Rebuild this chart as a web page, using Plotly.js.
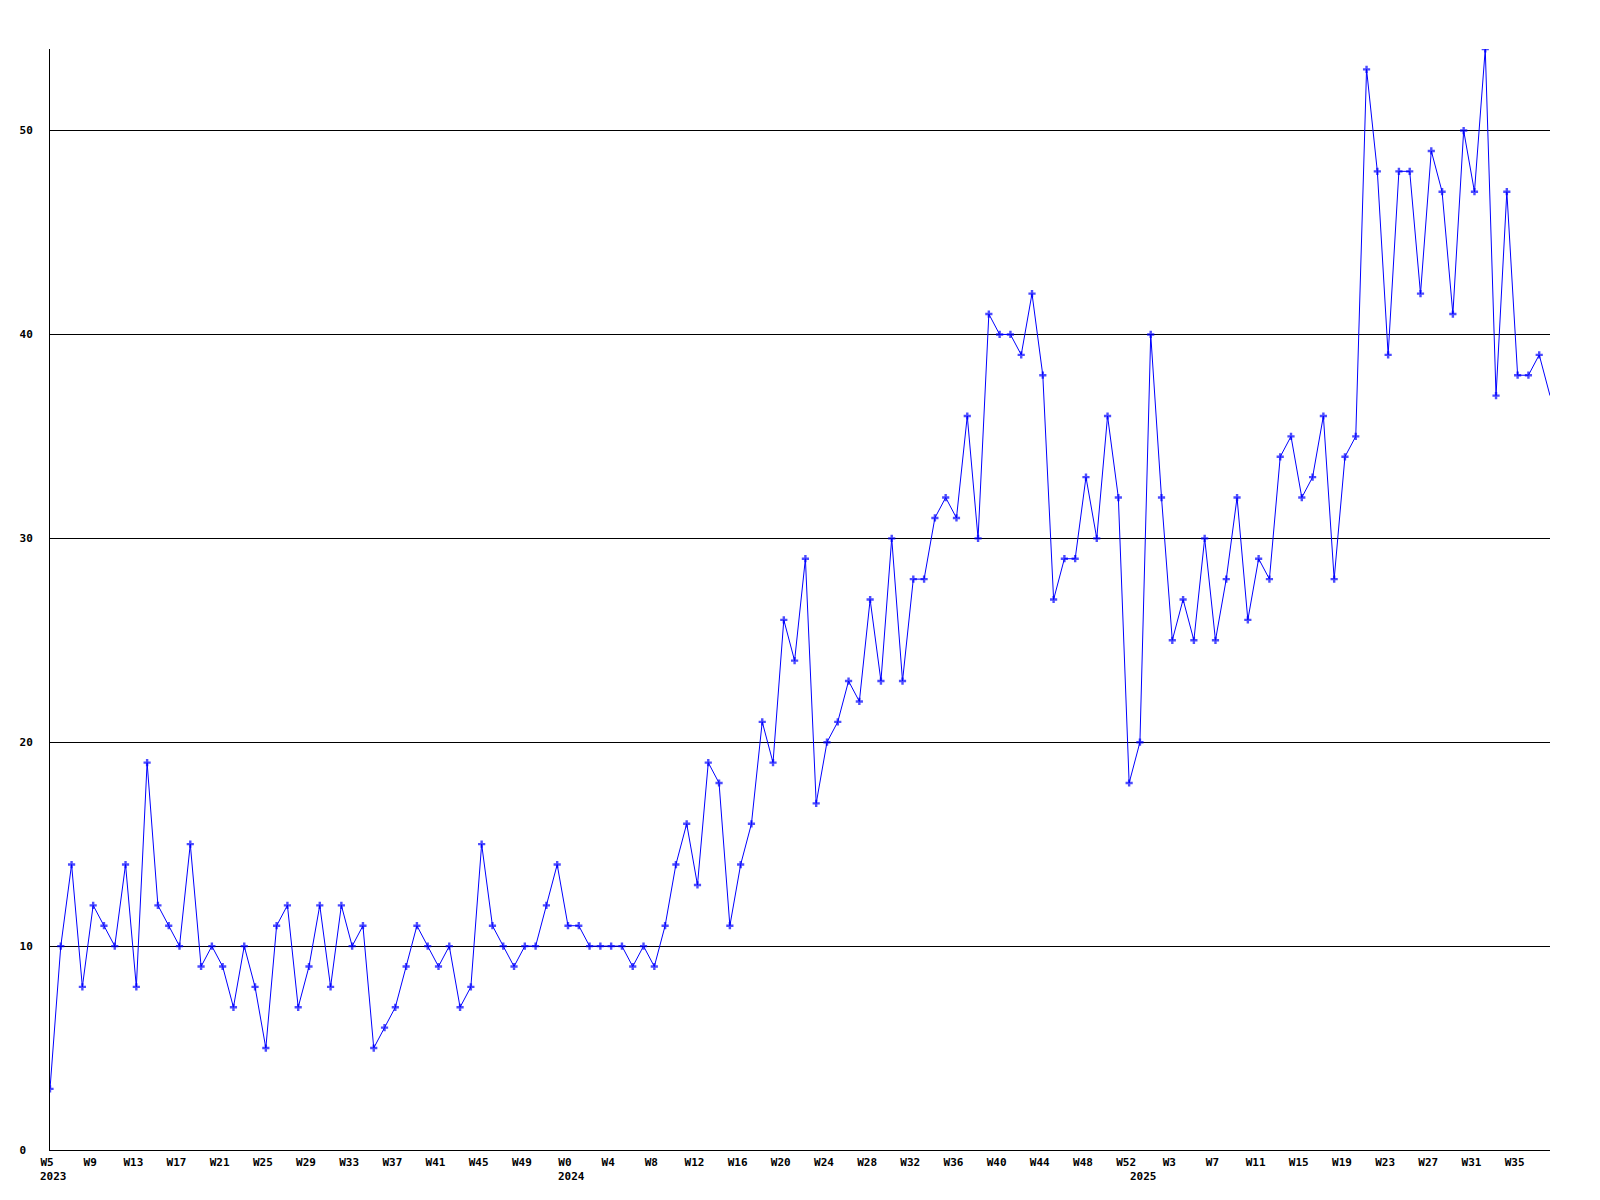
<!DOCTYPE html>
<html>
<head>
<meta charset="utf-8">
<script src="https://cdn.plot.ly/plotly-3.0.1.min.js"></script>
<style>
  html, body { margin: 0; padding: 0; background: #ffffff; }
  #chart { width: 1600px; height: 1200px; }
</style>
</head>
<body>
<div id="chart"></div>
<script>
// Weekly values, W5 2023 .. W37 2025 (one per week)
const weeklyCounts = [
  3, 10, 14, 8, 12, 11, 10, 14, 8, 19,
  12, 11, 10, 15, 9, 10, 9, 7, 10, 8,
  5, 11, 12, 7, 9, 12, 8, 12, 10, 11,
  5, 6, 7, 9, 11, 10, 9, 10, 7, 8,
  15, 11, 10, 9, 10, 10, 12, 14, 11, 11,
  10, 10, 10, 10, 9, 10, 9, 11, 14, 16,
  13, 19, 18, 11, 14, 16, 21, 19, 26, 24,
  29, 17, 20, 21, 23, 22, 27, 23, 30, 23,
  28, 28, 31, 32, 31, 36, 30, 41, 40, 40,
  39, 42, 38, 27, 29, 29, 33, 30, 36, 32,
  18, 20, 40, 32, 25, 27, 25, 30, 25, 28,
  32, 26, 29, 28, 34, 35, 32, 33, 36, 28,
  34, 35, 53, 48, 39, 48, 48, 42, 49, 47,
  41, 50, 47, 54, 37, 47, 38, 38, 39, 37
];

// Week tick labels, one every 4 weeks
const tickLabels = [
  'W5','W9','W13','W17','W21','W25','W29','W33','W37','W41','W45','W49',
  'W0','W4','W8','W12','W16','W20','W24','W28','W32','W36','W40','W44','W48','W52',
  'W3','W7','W11','W15','W19','W23','W27','W31','W35'
];
const tickStep = 4;

// Year labels and the week index where each year starts
const yearLabels = ['2023', '2024', '2025'];
const yearStartIndex = [0, 48, 101];

const yTicks = [0, 10, 20, 30, 40, 50];

const xIdx = weeklyCounts.map((_, i) => i);
const tickVals = tickLabels.map((_, i) => i * tickStep);
const markerSizes = weeklyCounts.map((_, i) => (i === weeklyCounts.length - 1 ? 0 : 6));

const fontFam = '"DejaVu Sans Mono", "Liberation Mono", monospace';

const trace = {
  type: 'scatter',
  mode: 'lines+markers',
  x: xIdx,
  y: weeklyCounts,
  line: { color: '#0000ff', width: 1 },
  marker: { color: '#0000ff', symbol: 'cross', size: markerSizes, line: { width: 0 } },
  hoverinfo: 'skip',
  showlegend: false
};

const annotations = yearLabels.map((t, k) => ({
  text: '<b>' + t + '</b>',
  x: yearStartIndex[k],
  xref: 'x',
  y: 0,
  yref: 'paper',
  xanchor: 'left',
  yanchor: 'middle',
  xshift: -12,
  yshift: -26,
  showarrow: false,
  font: { family: fontFam, size: 11, color: '#000000' }
}));

const layout = {
  width: 1600,
  height: 1200,
  margin: { l: 50, r: 50, t: 49, b: 50, pad: 0 },
  paper_bgcolor: '#ffffff',
  plot_bgcolor: '#ffffff',
  showlegend: false,
  xaxis: {
    range: [0, weeklyCounts.length - 1],
    tickmode: 'array',
    tickvals: tickVals,
    ticktext: tickLabels.map(s => '<b>' + s + '</b>'),
    showgrid: false,
    zeroline: false,
    showline: true,
    linecolor: '#000000',
    linewidth: 1,
    ticks: '',
    ticklabelstandoff: 2,
    ticklabelshift: -3,
    tickfont: { family: fontFam, size: 11, color: '#000000' },
    fixedrange: true
  },
  yaxis: {
    range: [0, 54],
    tickmode: 'array',
    tickvals: yTicks,
    ticktext: yTicks.map(v => '<b>' + String(v).padEnd(2, '\u00a0') + '</b>'),
    showgrid: true,
    gridcolor: '#000000',
    gridwidth: 1,
    zeroline: false,
    showline: true,
    linecolor: '#000000',
    linewidth: 1,
    ticks: '',
    ticklabelstandoff: 14,
    tickfont: { family: fontFam, size: 11, color: '#000000' },
    fixedrange: true
  },
  annotations: annotations
};

Plotly.newPlot('chart', [trace], layout, { staticPlot: true, displayModeBar: false });
</script>
</body>
</html>
